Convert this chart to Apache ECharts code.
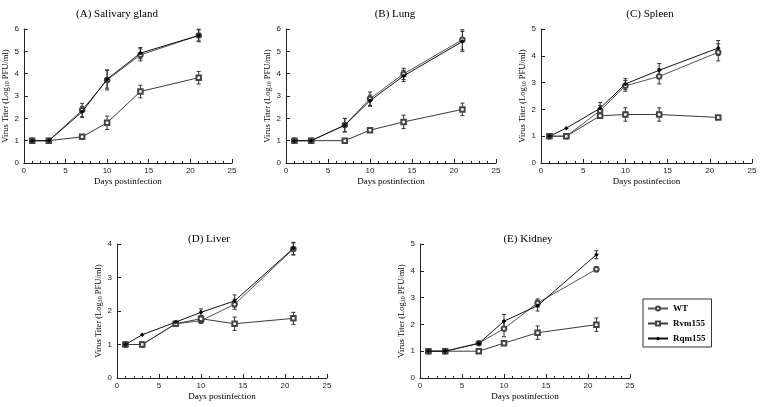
<!DOCTYPE html>
<html><head><meta charset="utf-8">
<script src="https://cdn.jsdelivr.net/npm/echarts@6/dist/echarts.min.js"></script>
<style>html,body{margin:0;padding:0;background:#fff}#c{width:760px;height:407px}</style>
</head><body><div id="c"></div>
<script>
// ---- data ----
const days = [1, 3, 7, 10, 14, 21];
const panelTitles = ['(A) Salivary gland', '(B) Lung', '(C) Spleen', '(D) Liver', '(E) Kidney'];
const yMaxes = [6, 6, 5, 4, 5];
const seriesNames = ['WT', 'Rvm155', 'Rqm155'];

const wtSalivary  = [1, 1, 2.37, 3.72, 4.84, 5.71];
const rvmSalivary = [1, 1, 1.17, 1.80, 3.20, 3.82];
const rqmSalivary = [1, 1, 2.29, 3.75, 4.92, 5.71];
const wtSalivaryErr  = [0, 0, 0.30, 0.45, 0.27, 0.28];
const rvmSalivaryErr = [0, 0, 0, 0.30, 0.28, 0.28];
const rqmSalivaryErr = [0, 0, 0.25, 0.40, 0.25, 0.25];

const wtLung  = [1, 1, 1.70, 2.88, 3.99, 5.52];
const rvmLung = [1, 1, 1.00, 1.47, 1.84, 2.40];
const rqmLung = [1, 1, 1.69, 2.79, 3.90, 5.44];
const wtLungErr  = [0, 0, 0.30, 0.30, 0.25, 0.45];
const rvmLungErr = [0, 0, 0, 0, 0.30, 0.28];
const rqmLungErr = [0, 0, 0.30, 0.25, 0.25, 0.45];

const wtSpleen  = [1, 1, 1.95, 2.88, 3.23, 4.13];
const rvmSpleen = [1, 1, 1.76, 1.81, 1.81, 1.70];
const rqmSpleen = [1, 1.30, 2.04, 2.95, 3.46, 4.29];
const wtSpleenErr  = [0, 0, 0.20, 0.20, 0.28, 0.32];
const rvmSpleenErr = [0, 0, 0, 0.25, 0.25, 0];
const rqmSpleenErr = [0, 0, 0.22, 0.20, 0.25, 0.28];

const wtLiver  = [1, 1, 1.62, 1.71, 2.20, 3.85];
const rvmLiver = [1, 1, 1.62, 1.77, 1.62, 1.78];
const rqmLiver = [1, 1.29, 1.67, 1.96, 2.30, 3.87];
const wtLiverErr  = [0, 0, 0, 0.08, 0.15, 0.18];
const rvmLiverErr = [0, 0, 0, 0.10, 0.20, 0.18];
const rqmLiverErr = [0, 0, 0, 0.10, 0.18, 0.18];

const wtKidney  = [1, 1, 1.30, 1.84, 2.80, 4.06];
const rvmKidney = [1, 1, 1.00, 1.30, 1.69, 1.99];
const rqmKidney = [1, 1, 1.29, 2.12, 2.70, 4.60];
const wtKidneyErr  = [0, 0, 0, 0.30, 0.15, 0.10];
const rvmKidneyErr = [0, 0, 0, 0, 0.25, 0.25];
const rqmKidneyErr = [0, 0, 0, 0.25, 0.20, 0.15];

const panels = [
  [wtSalivary, rvmSalivary, rqmSalivary, wtSalivaryErr, rvmSalivaryErr, rqmSalivaryErr],
  [wtLung, rvmLung, rqmLung, wtLungErr, rvmLungErr, rqmLungErr],
  [wtSpleen, rvmSpleen, rqmSpleen, wtSpleenErr, rvmSpleenErr, rqmSpleenErr],
  [wtLiver, rvmLiver, rqmLiver, wtLiverErr, rvmLiverErr, rqmLiverErr],
  [wtKidney, rvmKidney, rqmKidney, wtKidneyErr, rvmKidneyErr, rqmKidneyErr]
];

// ---- layout ----
const grids = [
  {left: 23, top: 29, width: 209, height: 134},
  {left: 286, top: 29, width: 210, height: 134},
  {left: 541, top: 29, width: 211, height: 134},
  {left: 117, top: 244, width: 210, height: 134},
  {left: 420, top: 244, width: 210, height: 134}
];
const titlePos = [[112, 4], [390, 4], [645, 4], [204, 229], [523, 229]];
const yNameGaps = [10, 12, 13, 9, 12];

const ink = '#222';
const serif = 'Liberation Serif';
const sans = 'Liberation Sans';
const symbols = ['emptyCircle', 'emptyRect', 'diamond'];
const symSizes = [4.5, 4.5, 4.5];
const lineColors = ['#555', '#3a3a3a', '#111'];

const option = {
  animation: false,
  backgroundColor: '#fff',
  title: panelTitles.map((t, i) => ({
    text: t, left: titlePos[i][0], top: titlePos[i][1], textAlign: 'center',
    textStyle: {fontFamily: serif, fontSize: 11, fontWeight: 'normal', color: '#000'}
  })),
  legend: {
    orient: 'vertical', left: 643, top: 299,
    data: seriesNames,
    borderColor: '#333', borderWidth: 1, padding: [5, 6, 4, 4],
    itemWidth: 20, itemHeight: 5, itemGap: 6,
    textStyle: {fontFamily: serif, fontSize: 9, fontWeight: 'bold', color: '#000'}
  },
  grid: grids.map(g => Object.assign({containLabel: false}, g)),
  xAxis: grids.map((g, i) => ({
    type: 'value', gridIndex: i, min: 0, max: 25, interval: 5,
    name: 'Days postinfection', nameLocation: 'middle', nameGap: 14,
    nameTextStyle: {fontFamily: serif, fontSize: 9, color: '#000'},
    axisLine: {show: true, onZero: false, lineStyle: {color: ink, width: 1}},
    axisTick: {show: true, inside: true, length: 4, lineStyle: {color: ink}},
    minorTick: {show: true, splitNumber: 5, length: 2, lineStyle: {color: ink}},
    axisLabel: {fontFamily: sans, fontSize: 8, color: ink, margin: 4},
    splitLine: {show: false}
  })),
  yAxis: grids.map((g, i) => ({
    type: 'value', gridIndex: i, min: 0, max: yMaxes[i], interval: 1,
    name: 'Virus Titer (Log{s|10} PFU/ml)', nameLocation: 'middle', nameGap: yNameGaps[i],
    nameTextStyle: {fontFamily: serif, fontSize: 8.5, color: '#000',
      rich: {s: {fontFamily: serif, fontSize: 6, color: '#000', verticalAlign: 'bottom', padding: [4, 0, 0, 0]}}},
    axisLine: {show: true, onZero: false, lineStyle: {color: ink, width: 1}},
    axisTick: {show: true, inside: true, length: 4, lineStyle: {color: ink}},
    axisLabel: {fontFamily: sans, fontSize: 8, color: ink, margin: 5},
    splitLine: {show: false}
  })),
  series: []
};

panels.forEach((p, i) => {
  // error bars
  for (let k = 0; k < 3; k++) {
    const vals = p[k], errs = p[k + 3];
    const data = days.map((d, j) => [d, vals[j] - errs[j], vals[j] + errs[j]]).filter((r, j) => errs[j] > 0);
    option.series.push({
      type: 'custom', xAxisIndex: i, yAxisIndex: i, z: 1, silent: true,
      data: data,
      encode: {x: 0, y: [1, 2]},
      renderItem: function (params, api) {
        const lo = api.coord([api.value(0), api.value(1)]);
        const hi = api.coord([api.value(0), api.value(2)]);
        const cw = 2;
        const st = {stroke: '#333', lineWidth: 1};
        return {type: 'group', children: [
          {type: 'line', shape: {x1: lo[0], y1: lo[1], x2: hi[0], y2: hi[1]}, style: st},
          {type: 'line', shape: {x1: lo[0] - cw, y1: lo[1], x2: lo[0] + cw, y2: lo[1]}, style: st},
          {type: 'line', shape: {x1: hi[0] - cw, y1: hi[1], x2: hi[0] + cw, y2: hi[1]}, style: st}
        ]};
      }
    });
  }
  for (let k = 0; k < 3; k++) {
    option.series.push({
      type: 'line', name: seriesNames[k], xAxisIndex: i, yAxisIndex: i, z: 3 + k,
      data: days.map((d, j) => [d, p[k][j]]),
      symbol: symbols[k], symbolSize: symSizes[k], showSymbol: true,
      lineStyle: {color: lineColors[k], width: 1},
      itemStyle: {color: k === 2 ? '#000' : '#444', borderColor: '#444', borderWidth: k === 2 ? 0 : 0.8},
      emphasis: {disabled: true}
    });
  }
});

const chart = echarts.init(document.getElementById('c'), null, {renderer: 'canvas'});
chart.setOption(option);
</script>
</body></html>
